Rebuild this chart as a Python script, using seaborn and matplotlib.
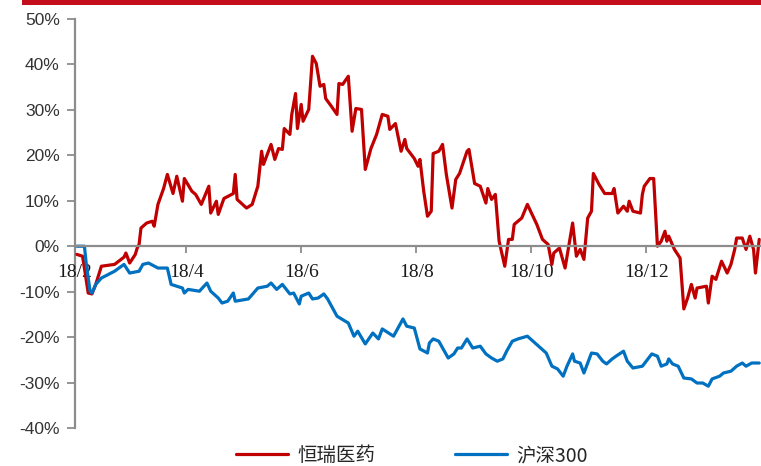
import pandas as pd
import matplotlib
matplotlib.use('Agg')
import matplotlib.pyplot as plt
from matplotlib.ticker import FuncFormatter
from matplotlib.patches import Rectangle
import seaborn as sns

# 恒瑞医药 cumulative return (%)
red_dates = [
    '2018-02-02', '2018-02-05', '2018-02-06', '2018-02-08', '2018-02-10', '2018-02-12', '2018-02-15', '2018-02-22', '2018-02-27', '2018-02-28',
    '2018-03-02', '2018-03-05', '2018-03-06', '2018-03-07', '2018-03-08', '2018-03-11', '2018-03-14', '2018-03-15', '2018-03-17', '2018-03-20',
    '2018-03-22', '2018-03-25', '2018-03-27', '2018-03-30', '2018-03-31', '2018-04-04', '2018-04-06', '2018-04-09', '2018-04-13', '2018-04-14',
    '2018-04-17', '2018-04-18', '2018-04-21', '2018-04-26', '2018-04-27', '2018-04-28', '2018-05-03', '2018-05-06', '2018-05-09', '2018-05-11',
    '2018-05-12', '2018-05-16', '2018-05-18', '2018-05-20', '2018-05-22', '2018-05-23', '2018-05-26', '2018-05-27', '2018-05-29', '2018-05-30',
    '2018-06-01', '2018-06-02', '2018-06-05', '2018-06-07', '2018-06-09', '2018-06-11', '2018-06-13', '2018-06-14', '2018-06-17', '2018-06-20',
    '2018-06-21', '2018-06-23', '2018-06-26', '2018-06-28', '2018-06-30', '2018-07-03', '2018-07-05', '2018-07-08', '2018-07-11', '2018-07-14',
    '2018-07-17', '2018-07-18', '2018-07-21', '2018-07-24', '2018-07-26', '2018-07-27', '2018-07-31', '2018-08-02', '2018-08-03', '2018-08-05',
    '2018-08-07', '2018-08-09', '2018-08-10', '2018-08-13', '2018-08-15', '2018-08-17', '2018-08-20', '2018-08-22', '2018-08-24', '2018-08-28',
    '2018-08-29', '2018-09-01', '2018-09-04', '2018-09-07', '2018-09-08', '2018-09-10', '2018-09-12', '2018-09-14', '2018-09-17', '2018-09-19',
    '2018-09-21', '2018-09-22', '2018-09-26', '2018-09-29', '2018-10-04', '2018-10-07', '2018-10-10', '2018-10-12', '2018-10-13', '2018-10-16',
    '2018-10-19', '2018-10-23', '2018-10-25', '2018-10-27', '2018-10-29', '2018-10-31', '2018-11-02', '2018-11-03', '2018-11-06', '2018-11-09',
    '2018-11-13', '2018-11-14', '2018-11-16', '2018-11-19', '2018-11-21', '2018-11-22', '2018-11-24', '2018-11-28', '2018-11-29', '2018-11-30',
    '2018-12-03', '2018-12-05', '2018-12-07', '2018-12-09', '2018-12-11', '2018-12-12', '2018-12-13', '2018-12-16', '2018-12-19', '2018-12-21',
    '2018-12-23', '2018-12-25', '2018-12-27', '2018-12-28', '2019-01-02', '2019-01-03', '2019-01-05', '2019-01-07', '2019-01-10', '2019-01-13',
    '2019-01-15', '2019-01-17', '2019-01-18', '2019-01-21', '2019-01-23', '2019-01-25', '2019-01-27', '2019-01-28', '2019-01-30',
]
red_values = [
    -1.8, -2.2, -4.8, -10.3, -10.5, -8.4, -4.4, -4.0, -2.4, -1.5,
    -3.7, -1.8, -0.4, 0.4, 4.0, 5.1, 5.5, 4.4, 9.2, 12.7,
    15.8, 11.6, 15.4, 9.9, 14.9, 12.1, 11.4, 9.2, 13.2, 7.3,
    9.9, 7.0, 10.5, 11.6, 15.8, 10.3, 8.4, 9.2, 13.2, 20.9,
    18.0, 22.4, 19.1, 21.5, 21.3, 25.9, 24.6, 29.0, 33.6, 25.9,
    31.2, 27.5, 30.1, 41.8, 40.2, 35.2, 35.6, 32.5, 30.8, 29.0,
    35.8, 35.6, 37.4, 25.3, 30.3, 30.1, 16.9, 21.5, 24.6, 29.0,
    28.6, 25.7, 27.0, 20.9, 23.5, 21.5, 19.3, 17.6, 19.1, 12.1,
    6.6, 7.7, 20.4, 20.9, 22.4, 15.8, 8.4, 14.7, 16.0, 20.9,
    21.3, 13.8, 13.2, 9.5, 12.7, 10.3, 11.4, 1.1, -4.4, 1.5,
    1.5, 4.8, 6.2, 9.2, 4.8, 1.5, 0.4, -4.0, -1.5, -0.4,
    -4.8, 5.1, -2.2, -0.7, -2.9, 6.2, 7.7, 16.0, 13.6, 11.6,
    11.6, 12.7, 7.3, 8.8, 7.7, 9.9, 7.7, 7.3, 11.4, 13.2,
    14.9, 14.9, 0.0, 1.1, 3.3, 1.1, 2.2, -0.7, -2.6, -13.8,
    -11.4, -8.4, -11.4, -9.2, -8.8, -12.5, -6.6, -7.3, -3.3, -5.9,
    -4.0, -0.7, 1.8, 1.8, -0.7, 2.2, -0.7, -5.9, 1.5,
]

# 沪深300 cumulative return (%)
blue_dates = [
    '2018-02-02', '2018-02-06', '2018-02-07', '2018-02-09', '2018-02-10', '2018-02-12', '2018-02-15', '2018-02-22', '2018-02-27', '2018-03-02',
    '2018-03-07', '2018-03-09', '2018-03-12', '2018-03-17', '2018-03-22', '2018-03-24', '2018-03-30', '2018-03-31', '2018-04-02', '2018-04-08',
    '2018-04-12', '2018-04-14', '2018-04-18', '2018-04-20', '2018-04-23', '2018-04-26', '2018-04-27', '2018-05-04', '2018-05-09', '2018-05-14',
    '2018-05-16', '2018-05-19', '2018-05-22', '2018-05-26', '2018-05-28', '2018-05-31', '2018-06-01', '2018-06-05', '2018-06-07', '2018-06-10',
    '2018-06-13', '2018-06-15', '2018-06-20', '2018-06-26', '2018-06-29', '2018-07-01', '2018-07-05', '2018-07-09', '2018-07-12', '2018-07-14',
    '2018-07-20', '2018-07-25', '2018-07-27', '2018-07-31', '2018-08-03', '2018-08-07', '2018-08-08', '2018-08-10', '2018-08-13', '2018-08-18',
    '2018-08-21', '2018-08-23', '2018-08-25', '2018-08-28', '2018-08-31', '2018-09-04', '2018-09-07', '2018-09-10', '2018-09-13', '2018-09-16',
    '2018-09-18', '2018-09-21', '2018-09-24', '2018-09-29', '2018-10-02', '2018-10-09', '2018-10-12', '2018-10-15', '2018-10-18', '2018-10-20',
    '2018-10-23', '2018-10-24', '2018-10-27', '2018-10-29', '2018-11-02', '2018-11-05', '2018-11-08', '2018-11-10', '2018-11-13', '2018-11-15',
    '2018-11-19', '2018-11-21', '2018-11-24', '2018-11-29', '2018-12-04', '2018-12-07', '2018-12-09', '2018-12-12', '2018-12-13', '2018-12-15',
    '2018-12-18', '2018-12-21', '2018-12-25', '2018-12-28', '2018-12-31', '2019-01-03', '2019-01-05', '2019-01-09', '2019-01-11', '2019-01-15',
    '2019-01-18', '2019-01-21', '2019-01-23', '2019-01-26', '2019-01-30',
]
blue_values = [
    0.0, 0.0, -4.0, -9.9, -10.3, -8.4, -7.0, -5.5, -4.0, -5.9,
    -5.5, -4.0, -3.7, -4.8, -4.8, -8.4, -9.2, -10.3, -9.5, -9.9,
    -8.1, -9.9, -11.4, -12.5, -12.1, -10.3, -12.1, -11.6, -9.2, -8.8,
    -8.1, -9.5, -8.4, -10.5, -10.3, -12.7, -11.0, -10.3, -11.6, -11.4,
    -10.5, -11.6, -15.4, -16.9, -19.8, -18.7, -21.5, -19.1, -20.4, -18.2,
    -19.8, -16.0, -17.6, -18.0, -22.6, -23.5, -21.3, -20.4, -20.9, -24.6,
    -23.7, -22.4, -22.4, -20.4, -22.4, -22.0, -23.7, -24.6, -25.3, -24.8,
    -23.1, -20.9, -20.4, -19.8, -20.9, -23.5, -26.4, -27.0, -28.6, -26.4,
    -23.7, -25.3, -25.7, -27.9, -23.5, -23.7, -25.3, -25.9, -24.8, -24.2,
    -23.1, -25.3, -26.8, -26.4, -23.7, -24.2, -26.4, -25.9, -24.8, -25.9,
    -26.4, -29.0, -29.2, -30.1, -30.1, -30.8, -29.2, -28.6, -27.9, -27.5,
    -26.4, -25.7, -26.4, -25.7, -25.7,
]

series_names = ['恒瑞医药', '沪深300']
tick_dates = ['2018-02-01', '2018-04-01', '2018-06-01', '2018-08-01', '2018-10-01', '2018-12-01']
tick_labels = ['18/2', '18/4', '18/6', '18/8', '18/10', '18/12']
y_ticks = [-40, -30, -20, -10, 0, 10, 20, 30, 40, 50]

RED = '#C00000'
BLUE = '#0070C0'
GREY = '#8C8C8C'
BAR = '#C40E1C'

sns.set_theme(style='white')
plt.rcParams['font.family'] = ['Noto Sans CJK SC', 'DejaVu Sans']

df = pd.concat([
    pd.DataFrame({'date': pd.to_datetime(red_dates), 'ret': red_values, 'name': series_names[0]}),
    pd.DataFrame({'date': pd.to_datetime(blue_dates), 'ret': blue_values, 'name': series_names[1]}),
], ignore_index=True)

fig = plt.figure(figsize=(7.61, 4.66), dpi=100)
ax = fig.add_axes([75 / 761, 1 - 428 / 466, 688 / 761, 409 / 466])

sns.lineplot(data=df, x='date', y='ret', hue='name', hue_order=series_names,
             palette={series_names[0]: RED, series_names[1]: BLUE},
             linewidth=2.3, ax=ax, legend=False)

ax.set_xlim(pd.Timestamp('2018-02-01'), pd.Timestamp('2019-02-01'))
ax.set_ylim(-40, 50)
ax.set_yticks(y_ticks)
ax.yaxis.set_major_formatter(FuncFormatter(lambda v, p: f'{v:.0f}%'))
ax.set_xticks(pd.to_datetime(tick_dates))
ax.set_xticklabels(tick_labels)
ax.set_xlabel('')
ax.set_ylabel('')
ax.grid(False)

for side in ['top', 'right']:
    ax.spines[side].set_visible(False)
ax.spines['bottom'].set_position(('data', 0))
for side in ['left', 'bottom']:
    ax.spines[side].set_color(GREY)
    ax.spines[side].set_linewidth(1.6)
ax.spines['left'].set_zorder(0)

ax.tick_params(axis='x', direction='out', length=5, width=1.3, color=GREY, pad=8, bottom=True)
ax.tick_params(axis='y', direction='out', length=6, width=1.3, color=GREY, pad=5, left=True)
for lab in ax.get_xticklabels():
    lab.set_fontfamily('Liberation Serif')
    lab.set_fontsize(14)
    lab.set_color('#1a1a1a')
for lab in ax.get_yticklabels():
    lab.set_fontfamily('Liberation Sans')
    lab.set_fontsize(12.5)
    lab.set_color('#333333')

lines = ax.get_lines()[:2]
fig.legend(lines, series_names, loc='center', bbox_to_anchor=(0.541, 0.022),
           ncol=2, frameon=False, fontsize=14, handlelength=2.7,
           handletextpad=0.45, columnspacing=4.1)

fig.add_artist(Rectangle((22 / 761, 1 - 5 / 466), 739 / 761, 5 / 466,
                         transform=fig.transFigure, color=BAR, lw=0))

fig.savefig('out.png', dpi=100)
